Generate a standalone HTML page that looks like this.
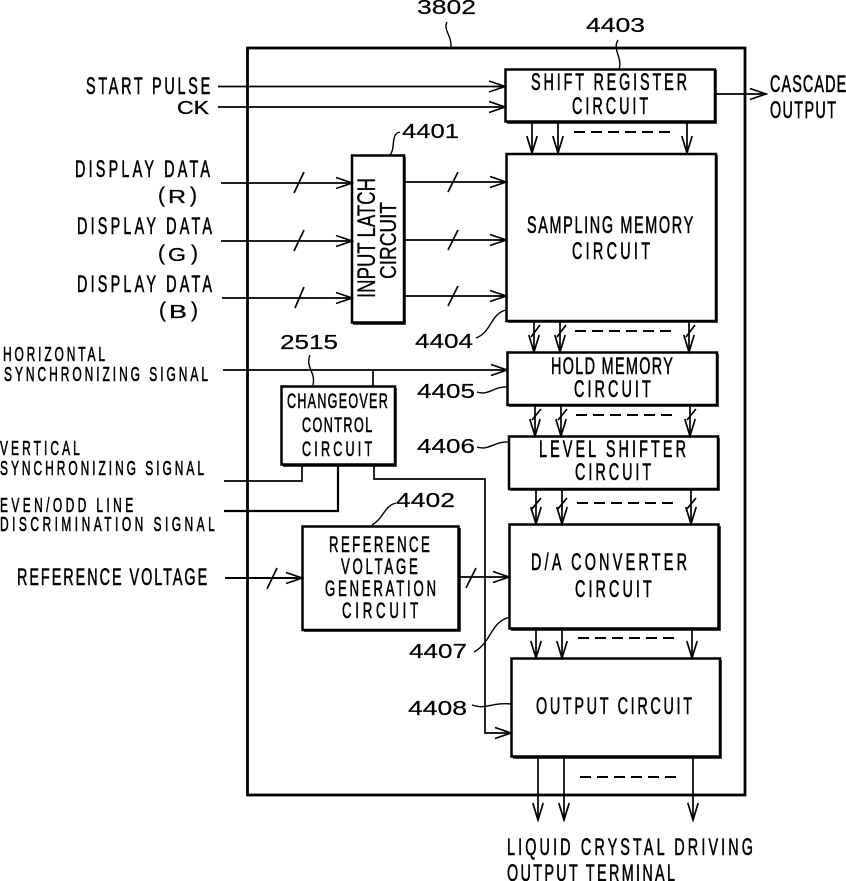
<!DOCTYPE html>
<html><head><meta charset="utf-8"><style>
html,body{margin:0;padding:0;background:#fff}
svg{display:block}
text{font-family:"Liberation Sans","Noto Sans CJK JP",sans-serif;fill:#000;stroke:#000;stroke-width:.6}
.a{font-size:24px}.s{font-size:20px}.c{font-size:21px}.r{font-size:22px}.n{font-size:20px}
.n text{stroke-width:.2}
.o text{stroke-width:.3}
.l{fill:none;stroke:#000;stroke-width:1.7}
.b{fill:#fff;stroke:#000;stroke-width:2.8}
.t{fill:none;stroke:#000;stroke-width:2.5}
</style></head><body>
<svg width="846" height="881" viewBox="0 0 846 881" xmlns="http://www.w3.org/2000/svg">
<defs>
<marker id="m" markerUnits="userSpaceOnUse" markerWidth="20" markerHeight="14" refX="18" refY="7" orient="auto"><path d="M2 1.500L18 7L2 12.500" fill="none" stroke="#000" stroke-width="1.7"/></marker>
<marker id="d" markerUnits="userSpaceOnUse" markerWidth="20" markerHeight="14" refX="18" refY="7" orient="auto"><path d="M1 1.800L18 7L1 12.200" fill="none" stroke="#000" stroke-width="1.7"/></marker>
</defs>
<rect class="b" x="247.500" y="48" width="497.500" height="747"/>
<!-- input lines -->
<g class="l">
<path marker-end="url(#m)" d="M218 86.500H505"/>
<path marker-end="url(#m)" d="M218 107H505"/>
<path marker-end="url(#m)" d="M716 94H766"/>
<path marker-end="url(#m)" d="M221 183H352"/><path marker-end="url(#m)" d="M221 241H352"/><path marker-end="url(#m)" d="M222 298H352"/>
<path marker-end="url(#m)" d="M404 182H506"/><path marker-end="url(#m)" d="M404 240H506"/><path marker-end="url(#m)" d="M404 296H506"/>
<path d="M294 193L304 172M294 251L304 230M295 308L304 287M448 192L458 172M448 250L458 230M448 306L458 286"/>
<path marker-end="url(#m)" d="M223 370H507"/><path d="M373 370V386"/>
<path d="M224 481H302V465"/>
<path style="stroke-width:2.2" d="M224 511H338V465"/>
<path marker-end="url(#m)" d="M374 465V479H485V733H511"/>
<path marker-end="url(#m)" style="stroke-width:2" d="M225 578H302"/><path d="M267 589L277 568"/>
<path marker-end="url(#m)" d="M459 577H509"/><path d="M466 588L476 568"/>
</g>
<!-- vertical buses -->
<g class="l">
<path marker-end="url(#d)" d="M532 122V153"/><path marker-end="url(#d)" d="M558 122V153"/><path marker-end="url(#d)" d="M687 122V153"/>
<path marker-end="url(#d)" d="M534 321V352"/><path marker-end="url(#d)" d="M560 321V352"/><path marker-end="url(#d)" d="M689 321V352"/>
<path marker-end="url(#d)" d="M535 405V436"/><path marker-end="url(#d)" d="M561 405V436"/><path marker-end="url(#d)" d="M690 405V436"/>
<path marker-end="url(#d)" d="M536 489V524"/><path marker-end="url(#d)" d="M562 489V524"/><path marker-end="url(#d)" d="M691 489V524"/>
<path marker-end="url(#d)" d="M536 629V658"/><path marker-end="url(#d)" d="M562 629V658"/><path marker-end="url(#d)" d="M692 629V658"/>
<path marker-end="url(#d)" d="M538 757V820"/><path marker-end="url(#d)" d="M564 757V820"/><path marker-end="url(#d)" d="M693 757V820"/>
<path d="M531 337L540 325M557 337L566 325M686 337L695 325M532 420L541 409M558 420L567 409M687 420L696 409M531 510L541 498M557 510L567 498M686 510L696 498"/>
</g>
<g class="l" style="stroke-width:2" stroke-dasharray="11 6">
<path d="M574 132H672"/><path d="M575 331H672"/><path d="M576 415H673"/><path d="M577 503H675"/><path d="M578 638H675"/><path d="M580 777H676"/>
</g>
<!-- leaders -->
<g class="l" style="stroke-width:1.4">
<path d="M447 22C443 30 452 36 451 47"/>
<path d="M618 40C612 50 623 58 619 69"/>
<path d="M400 132C390 134 396 148 390 155"/>
<path d="M476 338C492 332 490 314 506 310"/>
<path d="M477 392C488 396 495 386 507 387"/>
<path d="M477 447C488 451 496 441 508 442"/>
<path d="M310 355C305 367 316 372 313 385"/>
<path d="M396 503C384 506 384 518 372 525"/>
<path d="M474 652C492 642 490 622 510 617"/>
<path d="M472 705C485 710 492 702 511 704"/>
</g>
<!-- boxes -->
<rect class="t" x="505.500" y="69.500" width="209.500" height="52"/>
<rect class="t" x="506.500" y="154" width="209.500" height="167"/>
<rect class="t" x="352" y="155.500" width="52" height="167"/>
<rect class="t" x="507.500" y="352.500" width="209.500" height="52.500"/>
<rect class="t" x="509" y="436.500" width="209" height="52.500"/>
<rect class="t" x="509.500" y="524.500" width="209" height="104"/>
<rect class="t" x="511.500" y="658.500" width="208.500" height="98"/>
<rect class="t" x="281.500" y="386.500" width="113.500" height="78"/>
<rect class="t" x="302.500" y="526.500" width="156" height="103.500"/>
<path fill="none" stroke="#000" stroke-width="1.500" d="M507 123H716V70M508 322H717V155M353 324H405V157M509 406H718V354M510 490H719V438M511 630H720V526M513 758H721V660M283 466H396V388M304 631H460V528"/>
<!-- numbers -->
<g class="n">
<text x="417" y="14" textLength="59" lengthAdjust="spacingAndGlyphs">3802</text>
<text x="586" y="32" textLength="59" lengthAdjust="spacingAndGlyphs">4403</text>
<text x="402" y="138" textLength="57" lengthAdjust="spacingAndGlyphs">4401</text>
<text x="415" y="348" textLength="58" lengthAdjust="spacingAndGlyphs">4404</text>
<text x="417" y="398" textLength="58" lengthAdjust="spacingAndGlyphs">4405</text>
<text x="417" y="453" textLength="58" lengthAdjust="spacingAndGlyphs">4406</text>
<text x="280" y="349" textLength="58" lengthAdjust="spacingAndGlyphs">2515</text>
<text x="396" y="507" textLength="59" lengthAdjust="spacingAndGlyphs">4402</text>
<text x="409" y="658" textLength="58" lengthAdjust="spacingAndGlyphs">4407</text>
<text x="408" y="715" textLength="59" lengthAdjust="spacingAndGlyphs">4408</text>
</g>
<!-- labels -->
<g class="a">
<text transform="translate(86 94) scale(.6 1)" textLength="207" lengthAdjust="spacing">START PULSE</text>
<text x="177" y="114" style="font-size:18px;stroke-width:.3" textLength="32" lengthAdjust="spacingAndGlyphs">CK</text>
<text transform="translate(75 177) scale(.6 1)" textLength="225" lengthAdjust="spacing">DISPLAY DATA</text>
<text transform="translate(77 234) scale(.6 1)" textLength="225" lengthAdjust="spacing">DISPLAY DATA</text>
<text transform="translate(77 292) scale(.6 1)" textLength="225" lengthAdjust="spacing">DISPLAY DATA</text>
<text transform="translate(17 585) scale(.6 1)" textLength="317" lengthAdjust="spacing">REFERENCE VOLTAGE</text>
<text transform="translate(531 90) scale(.6 1)" textLength="260" lengthAdjust="spacing">SHIFT REGISTER</text>
<text transform="translate(572 114) scale(.6 1)" textLength="127" lengthAdjust="spacing">CIRCUIT</text>
<text transform="translate(770 92) scale(.6 1)" textLength="127" lengthAdjust="spacing">CASCADE</text>
<text transform="translate(770 118) scale(.6 1)" textLength="110" lengthAdjust="spacing">OUTPUT</text>
<text transform="translate(527 233) scale(.6 1)" textLength="277" lengthAdjust="spacing">SAMPLING MEMORY</text>
<text transform="translate(572 259) scale(.6 1)" textLength="130" lengthAdjust="spacing">CIRCUIT</text>
<text transform="translate(551 374) scale(.6 1)" textLength="203" lengthAdjust="spacing">HOLD MEMORY</text>
<text transform="translate(574 397) scale(.6 1)" textLength="128" lengthAdjust="spacing">CIRCUIT</text>
<text transform="translate(539 457) scale(.6 1)" textLength="245" lengthAdjust="spacing">LEVEL SHIFTER</text>
<text transform="translate(575 480) scale(.6 1)" textLength="127" lengthAdjust="spacing">CIRCUIT</text>
<text transform="translate(531 570) scale(.6 1)" textLength="260" lengthAdjust="spacing">D/A CONVERTER</text>
<text transform="translate(575 597) scale(.6 1)" textLength="128" lengthAdjust="spacing">CIRCUIT</text>
<text transform="translate(536 714) scale(.6 1)" textLength="260" lengthAdjust="spacing">OUTPUT CIRCUIT</text>
<text transform="translate(507 855) scale(.6 1)" textLength="410" lengthAdjust="spacing">LIQUID CRYSTAL DRIVING</text>
<text transform="translate(507 881) scale(.6 1)" textLength="280" lengthAdjust="spacing">OUTPUT TERMINAL</text>
<text transform="translate(375 298) rotate(-90)" style="font-size:25px;stroke-width:.3" textLength="120" lengthAdjust="spacingAndGlyphs">INPUT LATCH</text>
<text transform="translate(396 279) rotate(-90)" style="font-size:23px;stroke-width:.3" textLength="77" lengthAdjust="spacingAndGlyphs">CIRCUIT</text>
</g>
<g class="o" style="font-size:21px">
<text x="158" y="202">(</text><text x="168" y="203" style="font-size:18px" textLength="18" lengthAdjust="spacingAndGlyphs">R</text><text x="190" y="202">)</text>
<text x="158" y="260">(</text><text x="168" y="261" style="font-size:18px" textLength="18" lengthAdjust="spacingAndGlyphs">G</text><text x="191" y="260">)</text>
<text x="159" y="317">(</text><text x="169" y="318" style="font-size:18px" textLength="18" lengthAdjust="spacingAndGlyphs">B</text><text x="191" y="317">)</text>
</g>
<g class="r">
<text transform="translate(329 552) scale(.6 1)" textLength="168" lengthAdjust="spacing">REFERENCE</text>
<text transform="translate(341 574) scale(.6 1)" textLength="128" lengthAdjust="spacing">VOLTAGE</text>
<text transform="translate(325 596) scale(.6 1)" textLength="185" lengthAdjust="spacing">GENERATION</text>
<text transform="translate(342 618) scale(.6 1)" textLength="127" lengthAdjust="spacing">CIRCUIT</text>
</g>
<g class="s">
<text transform="translate(3 361) scale(.6 1)" textLength="170" lengthAdjust="spacing">HORIZONTAL</text>
<text transform="translate(4 381) scale(.6 1)" textLength="340" lengthAdjust="spacing">SYNCHRONIZING SIGNAL</text>
<text transform="translate(0 455) scale(.6 1)" textLength="133" lengthAdjust="spacing">VERTICAL</text>
<text transform="translate(0 475) scale(.6 1)" textLength="340" lengthAdjust="spacing">SYNCHRONIZING SIGNAL</text>
<text transform="translate(0 512) scale(.6 1)" textLength="222" lengthAdjust="spacing">EVEN/ODD LINE</text>
<text transform="translate(0 531) scale(.6 1)" textLength="358" lengthAdjust="spacing">DISCRIMINATION SIGNAL</text>
</g>
<g class="c">
<text transform="translate(287 408) scale(.6 1)" textLength="168" lengthAdjust="spacing">CHANGEOVER</text>
<text transform="translate(302 432) scale(.6 1)" textLength="117" lengthAdjust="spacing">CONTROL</text>
<text transform="translate(302 456) scale(.6 1)" textLength="117" lengthAdjust="spacing">CIRCUIT</text>
</g>
</svg>
</body></html>
